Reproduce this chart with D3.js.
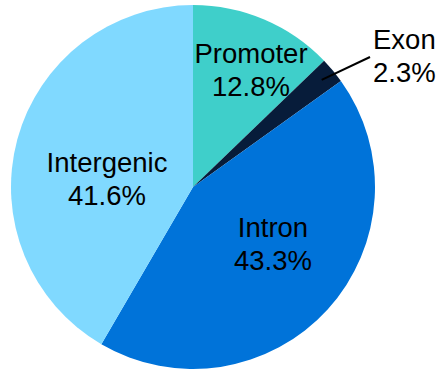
<!DOCTYPE html>
<html><head><meta charset="utf-8">
<script src="https://cdn.jsdelivr.net/npm/d3@7"></script>
<style>html,body{margin:0;padding:0;background:#fff;}svg{display:block;}</style>
</head><body>
<svg id="chart" width="437" height="370"></svg>
<script>
const categories = ["Promoter", "Exon", "Intron", "Intergenic"];
const values = [12.8, 2.3, 43.3, 41.6];
const labels = ["12.8%", "2.3%", "43.3%", "41.6%"];
const colors = ["#3fcfca", "#071c3a", "#0073d9", "#80d9ff"];

// label layout (offsets from pie centre, text-anchor)
const labelLayout = [
  {x: 58, y: -124, anchor: "middle"},
  {x: 180, y: -138, anchor: "start"},
  {x: 80, y: 50, anchor: "middle"},
  {x: -86, y: -15, anchor: "middle"}
];

const svg = d3.select("#chart");
const cx = 193, cy = 187, r = 182;
const g = svg.append("g").attr("transform", `translate(${cx},${cy})`);

const pie = d3.pie().sort(null).value(d => d.v);
const data = categories.map((c, i) => ({c, v: values[i], lab: labels[i], col: colors[i], lay: labelLayout[i]}));
const arcs = pie(data);
const arc = d3.arc().innerRadius(0).outerRadius(r);

g.selectAll("path").data(arcs).join("path")
  .attr("d", arc)
  .attr("fill", d => d.data.col);

// leader line for Exon
const exon = arcs[1];
const inner = d3.arc().innerRadius(r * 0.92).outerRadius(r * 0.92).centroid(exon);
g.append("line")
  .attr("x1", inner[0]).attr("y1", inner[1])
  .attr("x2", 177).attr("y2", -130)
  .attr("stroke", "#000").attr("stroke-width", 2);

const fs = 27.5;
const t = g.selectAll("text.lbl").data(arcs).join("text")
  .attr("class", "lbl")
  .attr("font-family", "'Liberation Sans', Arial, sans-serif")
  .attr("font-size", fs)
  .attr("fill", "#000")
  .attr("text-anchor", d => d.data.lay.anchor)
  .attr("transform", d => `translate(${d.data.lay.x},${d.data.lay.y})`);
t.append("tspan").attr("x", 0).attr("y", 0).text(d => d.data.c);
t.append("tspan").attr("x", 0).attr("y", 33).text(d => d.data.lab);
</script>
</body></html>
